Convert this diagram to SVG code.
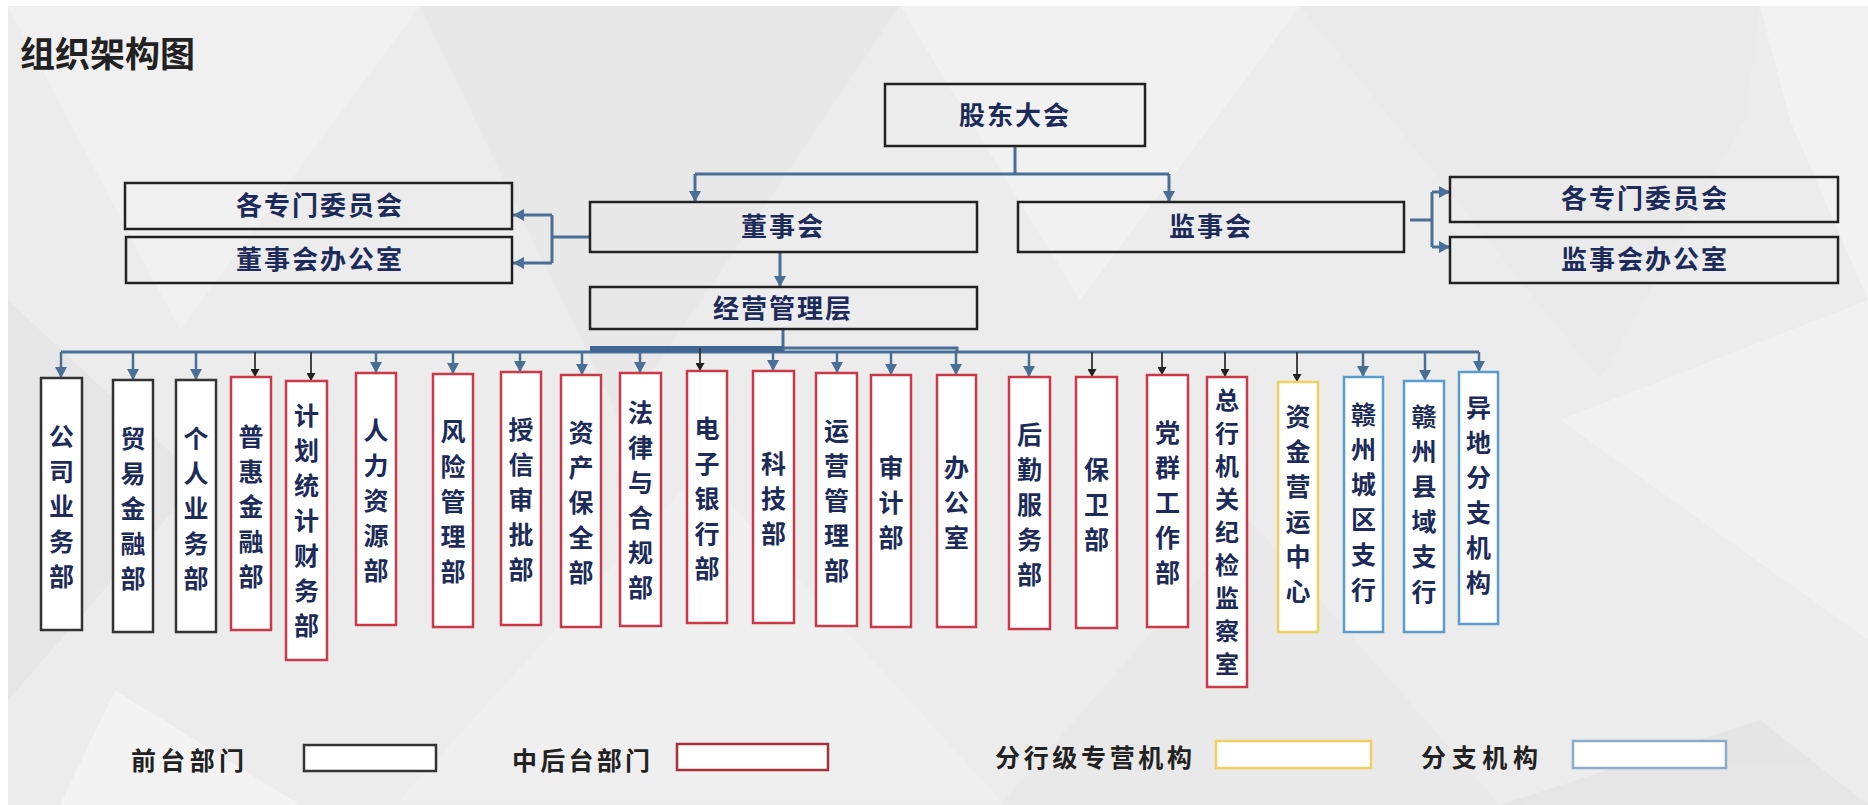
<svg xmlns="http://www.w3.org/2000/svg" width="1868" height="805" viewBox="0 0 1868 805">
<style>
.t{font-family:"Noto Sans CJK SC","Noto Sans CJK TC",sans-serif;font-weight:700;fill:#1c2b5a}
.h{font-size:26px;text-anchor:middle;letter-spacing:2px}
.v{font-size:25px;text-anchor:middle}
.v9{font-size:24px;text-anchor:middle}
.lg{font-family:"Noto Sans CJK SC",sans-serif;font-weight:700;font-size:25px;fill:#222}
.box{fill:none;stroke:#222;stroke-width:2.5}
.vb{fill:#fff;stroke-width:2.5}
.blk{stroke:#333}
.red{stroke:#c83a48}
.yel{stroke:#f0d060}
.lbl{stroke:#5a9bd0}
.c{fill:none;stroke:#4a6f96;stroke-width:3}
.ca{fill:none;stroke:#4a6f96;stroke-width:2.5}
.ck{fill:none;stroke:#333;stroke-width:1.8}
</style>
<defs>
<marker id="ab" markerUnits="userSpaceOnUse" markerWidth="12" markerHeight="12" refX="11" refY="6" orient="auto"><path d="M0,0 L11,6 L0,12 z" fill="#4a6f96"/></marker>
<marker id="ak" markerUnits="userSpaceOnUse" markerWidth="9" markerHeight="9" refX="8" refY="4.5" orient="auto"><path d="M0,0 L8,4.5 L0,9 z" fill="#222"/></marker>
</defs>
<rect width="1868" height="805" fill="#fff"/>
<rect x="8" y="6" width="1860" height="799" fill="#ececec"/>
<g id="background" opacity="0.9">
<polygon points="8,6 420,6 180,330" fill="#f1f1f1"/>
<polygon points="420,6 900,6 620,420" fill="#e8e8e8"/>
<polygon points="900,6 1300,6 1080,300" fill="#f2f2f2"/>
<polygon points="1300,6 1760,6 1745,120 1600,380" fill="#eaeaea"/>
<polygon points="1760,6 1868,6 1868,300 1790,120" fill="#f3f3f3"/>
<polygon points="8,300 200,480 8,700" fill="#e6e6e6"/>
<polygon points="400,800 700,470 1000,800" fill="#f0f0f0"/>
<polygon points="1000,805 1250,520 1500,805" fill="#e9e9e9"/>
<polygon points="1500,805 1760,720 1868,805" fill="#e5e5e5"/>
<polygon points="115,690 300,805 60,805" fill="#f4f4f4"/>
<polygon points="1560,420 1868,300 1868,640" fill="#f2f2f2"/>
</g>
<text x="20" y="67" style="font-family:'Noto Sans CJK SC',sans-serif;font-weight:700;font-size:35px;fill:#222">组织架构图</text>

<g id="connectors">
<path class="c" d="M1015,146 V174 M695,174 H1169"/>
<path class="c" d="M695,174 V202" marker-end="url(#ab)"/>
<path class="c" d="M1169,174 V202" marker-end="url(#ab)"/>
<path class="c" d="M780,252 V287" marker-end="url(#ab)"/>
<path class="c" d="M590,237 H552 M552,215 V263"/>
<path class="c" d="M552,215 H513" marker-end="url(#ab)"/>
<path class="c" d="M552,263 H513" marker-end="url(#ab)"/>
<path class="c" d="M1410,220 H1432 M1432,192 V247"/>
<path class="c" d="M1432,192 H1450" marker-end="url(#ab)"/>
<path class="c" d="M1432,247 H1450" marker-end="url(#ab)"/>
<path class="c" d="M783,329 V352"/>
<path class="c" d="M61,352 H1479"/>
<path fill="none" stroke="#3f6690" stroke-width="6" d="M590,349 H783"/>
<path class="c" d="M783,348 H957 V352"/>
<path class="ca" d="M61,352 V378" marker-end="url(#ab)"/>
<path class="ca" d="M133,352 V380" marker-end="url(#ab)"/>
<path class="ca" d="M196,352 V380" marker-end="url(#ab)"/>
<path class="ck" d="M255,352 V377" marker-end="url(#ak)"/>
<path class="ck" d="M311,352 V381" marker-end="url(#ak)"/>
<path class="ca" d="M376,352 V373" marker-end="url(#ab)"/>
<path class="ca" d="M453,352 V374" marker-end="url(#ab)"/>
<path class="ca" d="M520,352 V372" marker-end="url(#ab)"/>
<path class="ca" d="M582,352 V375" marker-end="url(#ab)"/>
<path class="ca" d="M640,352 V373" marker-end="url(#ab)"/>
<path class="ck" d="M700,348 V371" marker-end="url(#ak)"/>
<path class="ca" d="M773,352 V371" marker-end="url(#ab)"/>
<path class="ca" d="M837,352 V373" marker-end="url(#ab)"/>
<path class="ca" d="M891,352 V375" marker-end="url(#ab)"/>
<path class="ca" d="M956,352 V375" marker-end="url(#ab)"/>
<path class="ca" d="M1029,352 V377" marker-end="url(#ab)"/>
<path class="ck" d="M1092,352 V377" marker-end="url(#ak)"/>
<path class="ck" d="M1162,352 V375" marker-end="url(#ak)"/>
<path class="ck" d="M1225,352 V377" marker-end="url(#ak)"/>
<path class="ck" d="M1297,352 V382" marker-end="url(#ak)"/>
<path class="ca" d="M1363,352 V377" marker-end="url(#ab)"/>
<path class="ca" d="M1425,352 V381" marker-end="url(#ab)"/>
<path class="ca" d="M1479,352 V372" marker-end="url(#ab)"/>
</g>

<g id="n-gudong"><rect class="box" x="885" y="84" width="260" height="62"/><text class="t h" x="1015" y="125">股东大会</text></g>
<g id="n-dongshihui"><rect class="box" x="590" y="202" width="387" height="50"/><text class="t h" x="783" y="236">董事会</text></g>
<g id="n-jianshihui"><rect class="box" x="1018" y="202" width="386" height="50"/><text class="t h" x="1211" y="236">监事会</text></g>
<g id="n-jingying"><rect class="box" x="590" y="287" width="387" height="42"/><text class="t h" x="783" y="318">经营管理层</text></g>
<g id="n-left-zhuanmen"><rect class="box" x="125" y="183" width="387" height="46"/><text class="t h" x="320" y="215">各专门委员会</text></g>
<g id="n-left-bangong"><rect class="box" x="126" y="237" width="386" height="46"/><text class="t h" x="320" y="269">董事会办公室</text></g>
<g id="n-right-zhuanmen"><rect class="box" x="1450" y="177" width="388" height="45"/><text class="t h" x="1645" y="208">各专门委员会</text></g>
<g id="n-right-bangong"><rect class="box" x="1450" y="237" width="388" height="46"/><text class="t h" x="1645" y="269">监事会办公室</text></g>

<g id="d01"><rect class="vb blk" x="41" y="378" width="41" height="252"/><text class="t v" x="61.5" y="446"><tspan x="61.5">公</tspan><tspan x="61.5" dy="35">司</tspan><tspan x="61.5" dy="35">业</tspan><tspan x="61.5" dy="35">务</tspan><tspan x="61.5" dy="35">部</tspan></text></g>
<g id="d02"><rect class="vb blk" x="113" y="380" width="40" height="252"/><text class="t v" x="133" y="448"><tspan x="133">贸</tspan><tspan x="133" dy="35">易</tspan><tspan x="133" dy="35">金</tspan><tspan x="133" dy="35">融</tspan><tspan x="133" dy="35">部</tspan></text></g>
<g id="d03"><rect class="vb blk" x="176" y="380" width="40" height="252"/><text class="t v" x="196" y="448"><tspan x="196">个</tspan><tspan x="196" dy="35">人</tspan><tspan x="196" dy="35">业</tspan><tspan x="196" dy="35">务</tspan><tspan x="196" dy="35">部</tspan></text></g>
<g id="d04"><rect class="vb red" x="231" y="377" width="40" height="253"/><text class="t v" x="251" y="446"><tspan x="251">普</tspan><tspan x="251" dy="35">惠</tspan><tspan x="251" dy="35">金</tspan><tspan x="251" dy="35">融</tspan><tspan x="251" dy="35">部</tspan></text></g>
<g id="d05"><rect class="vb red" x="286" y="381" width="41" height="279"/><text class="t v" x="306.5" y="425"><tspan x="306.5">计</tspan><tspan x="306.5" dy="35">划</tspan><tspan x="306.5" dy="35">统</tspan><tspan x="306.5" dy="35">计</tspan><tspan x="306.5" dy="35">财</tspan><tspan x="306.5" dy="35">务</tspan><tspan x="306.5" dy="35">部</tspan></text></g>
<g id="d06"><rect class="vb red" x="356" y="373" width="40" height="252"/><text class="t v" x="376" y="440"><tspan x="376">人</tspan><tspan x="376" dy="35">力</tspan><tspan x="376" dy="35">资</tspan><tspan x="376" dy="35">源</tspan><tspan x="376" dy="35">部</tspan></text></g>
<g id="d07"><rect class="vb red" x="433" y="374" width="40" height="253"/><text class="t v" x="453" y="441"><tspan x="453">风</tspan><tspan x="453" dy="35">险</tspan><tspan x="453" dy="35">管</tspan><tspan x="453" dy="35">理</tspan><tspan x="453" dy="35">部</tspan></text></g>
<g id="d08"><rect class="vb red" x="501" y="372" width="40" height="253"/><text class="t v" x="521" y="439"><tspan x="521">授</tspan><tspan x="521" dy="35">信</tspan><tspan x="521" dy="35">审</tspan><tspan x="521" dy="35">批</tspan><tspan x="521" dy="35">部</tspan></text></g>
<g id="d09"><rect class="vb red" x="561" y="375" width="40" height="252"/><text class="t v" x="581" y="442"><tspan x="581">资</tspan><tspan x="581" dy="35">产</tspan><tspan x="581" dy="35">保</tspan><tspan x="581" dy="35">全</tspan><tspan x="581" dy="35">部</tspan></text></g>
<g id="d10"><rect class="vb red" x="620" y="373" width="41" height="253"/><text class="t v" x="640.5" y="422"><tspan x="640.5">法</tspan><tspan x="640.5" dy="35">律</tspan><tspan x="640.5" dy="35">与</tspan><tspan x="640.5" dy="35">合</tspan><tspan x="640.5" dy="35">规</tspan><tspan x="640.5" dy="35">部</tspan></text></g>
<g id="d11"><rect class="vb red" x="687" y="371" width="40" height="252"/><text class="t v" x="707" y="438"><tspan x="707">电</tspan><tspan x="707" dy="35">子</tspan><tspan x="707" dy="35">银</tspan><tspan x="707" dy="35">行</tspan><tspan x="707" dy="35">部</tspan></text></g>
<g id="d12"><rect class="vb red" x="753" y="371" width="41" height="252"/><text class="t v" x="773.5" y="473"><tspan x="773.5">科</tspan><tspan x="773.5" dy="35">技</tspan><tspan x="773.5" dy="35">部</tspan></text></g>
<g id="d13"><rect class="vb red" x="816" y="373" width="41" height="253"/><text class="t v" x="836.5" y="440"><tspan x="836.5">运</tspan><tspan x="836.5" dy="35">营</tspan><tspan x="836.5" dy="35">管</tspan><tspan x="836.5" dy="35">理</tspan><tspan x="836.5" dy="35">部</tspan></text></g>
<g id="d14"><rect class="vb red" x="871" y="375" width="40" height="252"/><text class="t v" x="891" y="477"><tspan x="891">审</tspan><tspan x="891" dy="35">计</tspan><tspan x="891" dy="35">部</tspan></text></g>
<g id="d15"><rect class="vb red" x="937" y="375" width="39" height="252"/><text class="t v" x="956.5" y="477"><tspan x="956.5">办</tspan><tspan x="956.5" dy="35">公</tspan><tspan x="956.5" dy="35">室</tspan></text></g>
<g id="d16"><rect class="vb red" x="1009" y="377" width="41" height="252"/><text class="t v" x="1029.5" y="444"><tspan x="1029.5">后</tspan><tspan x="1029.5" dy="35">勤</tspan><tspan x="1029.5" dy="35">服</tspan><tspan x="1029.5" dy="35">务</tspan><tspan x="1029.5" dy="35">部</tspan></text></g>
<g id="d17"><rect class="vb red" x="1076" y="377" width="41" height="251"/><text class="t v" x="1096.5" y="479"><tspan x="1096.5">保</tspan><tspan x="1096.5" dy="35">卫</tspan><tspan x="1096.5" dy="35">部</tspan></text></g>
<g id="d18"><rect class="vb red" x="1147" y="375" width="41" height="252"/><text class="t v" x="1167.5" y="442"><tspan x="1167.5">党</tspan><tspan x="1167.5" dy="35">群</tspan><tspan x="1167.5" dy="35">工</tspan><tspan x="1167.5" dy="35">作</tspan><tspan x="1167.5" dy="35">部</tspan></text></g>
<g id="d19"><rect class="vb red" x="1207" y="377" width="40" height="310"/><text class="t v9" x="1227" y="409"><tspan x="1227">总</tspan><tspan x="1227" dy="33">行</tspan><tspan x="1227" dy="33">机</tspan><tspan x="1227" dy="33">关</tspan><tspan x="1227" dy="33">纪</tspan><tspan x="1227" dy="33">检</tspan><tspan x="1227" dy="33">监</tspan><tspan x="1227" dy="33">察</tspan><tspan x="1227" dy="33">室</tspan></text></g>
<g id="d20"><rect class="vb yel" x="1278" y="382" width="40" height="250"/><text class="t v" x="1298" y="426"><tspan x="1298">资</tspan><tspan x="1298" dy="35">金</tspan><tspan x="1298" dy="35">营</tspan><tspan x="1298" dy="35">运</tspan><tspan x="1298" dy="35">中</tspan><tspan x="1298" dy="35">心</tspan></text></g>
<g id="d21"><rect class="vb lbl" x="1344" y="377" width="39" height="255"/><text class="t v" x="1363.5" y="424"><tspan x="1363.5">赣</tspan><tspan x="1363.5" dy="35">州</tspan><tspan x="1363.5" dy="35">城</tspan><tspan x="1363.5" dy="35">区</tspan><tspan x="1363.5" dy="35">支</tspan><tspan x="1363.5" dy="35">行</tspan></text></g>
<g id="d22"><rect class="vb lbl" x="1404" y="381" width="40" height="251"/><text class="t v" x="1424" y="426"><tspan x="1424">赣</tspan><tspan x="1424" dy="35">州</tspan><tspan x="1424" dy="35">县</tspan><tspan x="1424" dy="35">域</tspan><tspan x="1424" dy="35">支</tspan><tspan x="1424" dy="35">行</tspan></text></g>
<g id="d23"><rect class="vb lbl" x="1459" y="372" width="39" height="252"/><text class="t v" x="1478.5" y="417"><tspan x="1478.5">异</tspan><tspan x="1478.5" dy="35">地</tspan><tspan x="1478.5" dy="35">分</tspan><tspan x="1478.5" dy="35">支</tspan><tspan x="1478.5" dy="35">机</tspan><tspan x="1478.5" dy="35">构</tspan></text></g>

<g id="legend">
<text class="lg" x="131" y="770" textLength="113" lengthAdjust="spacing">前台部门</text>
<rect x="304" y="745" width="132" height="26" fill="#fff" stroke="#333" stroke-width="2.5"/>
<text class="lg" x="512" y="770" textLength="138" lengthAdjust="spacing">中后台部门</text>
<rect x="677" y="744" width="151" height="26" fill="#fff" stroke="#a8303c" stroke-width="2.5"/>
<text class="lg" x="995" y="767" textLength="197" lengthAdjust="spacing">分行级专营机构</text>
<rect x="1216" y="741" width="155" height="27" fill="#fff" stroke="#f0d060" stroke-width="2.5"/>
<text class="lg" x="1421" y="767" textLength="117" lengthAdjust="spacing">分支机构</text>
<rect x="1573" y="741" width="153" height="27" fill="#fff" stroke="#8aaccc" stroke-width="2.5"/>
</g>
</svg>
